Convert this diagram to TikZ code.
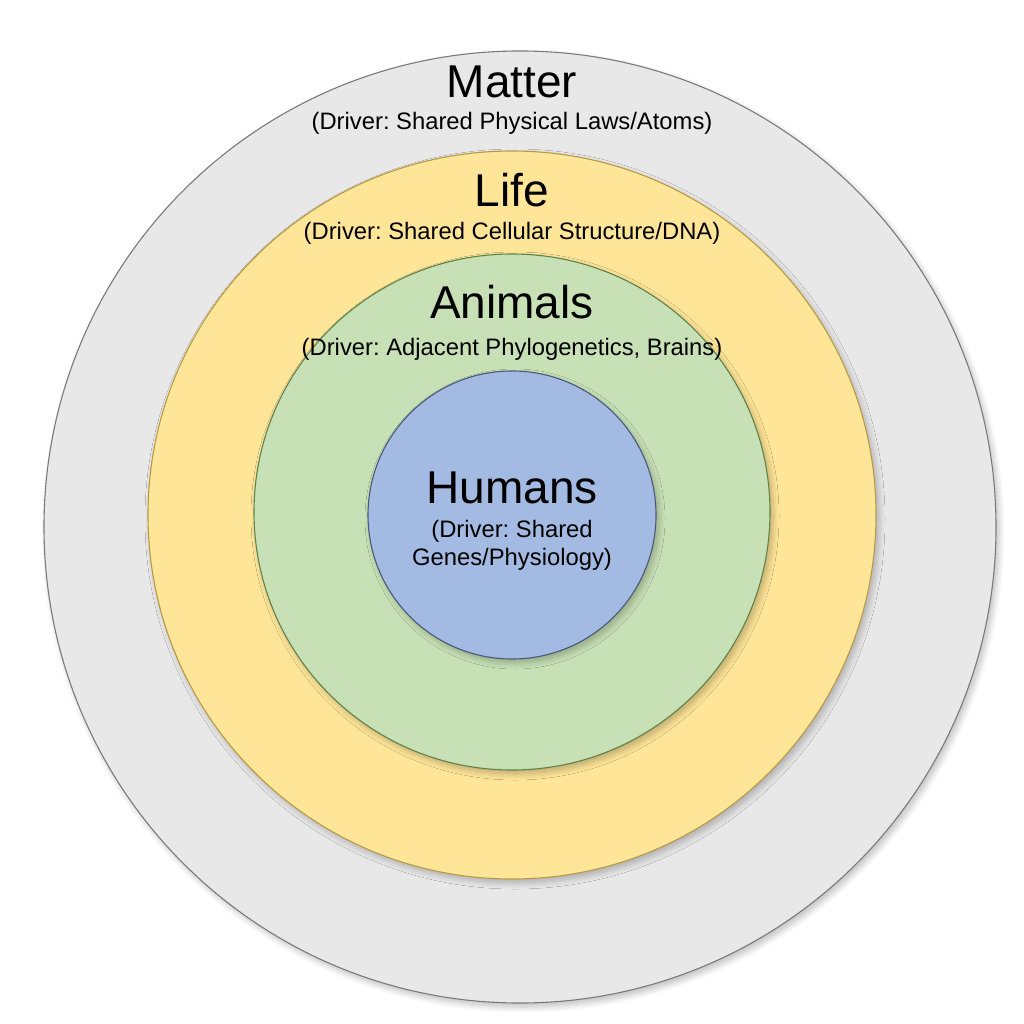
\documentclass[tikz,border=0pt]{standalone}
\usepackage{fontspec}
\setmainfont{Liberation Sans}
\usetikzlibrary{shadows.blur}
\frenchspacing
\definecolor{mattfill}{HTML}{E8E8E8}
\definecolor{mattline}{HTML}{7A7A7A}
\definecolor{lifefill}{HTML}{FFE598}
\definecolor{lifeline}{HTML}{B89A45}
\definecolor{animfill}{HTML}{C7E0B5}
\definecolor{animline}{HTML}{5F8248}
\definecolor{humfill}{HTML}{A3BBE3}
\definecolor{humline}{HTML}{4A5877}
\tikzset{
  ring/.style={circle, inner sep=0pt, line width=1.1pt,
    blur shadow={shadow xshift=3pt, shadow yshift=-4pt, shadow blur steps=8, shadow blur radius=6pt, shadow opacity=25}},
  title/.style={anchor=base, font=\fontsize{46}{50}\selectfont, text=black},
  sub/.style={anchor=base, font=\fontsize{23.8}{28}\selectfont, text=black, align=center}
}
\begin{document}
\frenchspacing
\begin{tikzpicture}[x=1pt,y=-1pt]
\useasboundingbox (0,0) rectangle (1024,1024);
\node[ring, draw=mattline, fill=mattfill, minimum size=952pt] (matter) at (520,527) {};
\node[ring, draw=lifeline, fill=lifefill, minimum size=728pt] (life) at (512,515) {};
\node[ring, draw=animline, fill=animfill, minimum size=516pt] (animals) at (512,512) {};
\node[ring, draw=humline, fill=humfill, minimum size=288pt] (humans) at (512,515) {};
\node[title] (tmatter) at (512,98) {Matter};
\node[sub] (smatter) at (512,130) {(Driver: Shared Physical Laws/Atoms)};
\node[title] (tlife) at (512,207) {Life};
\node[sub] (slife) at (512,240) {(Driver: Shared Cellular Structure/DNA)};
\node[title] (tanim) at (512,318) {Animals};
\node[sub] (sanim) at (512,355) {(Driver: Adjacent Phylogenetics, Brains)};
\node[title] (thum) at (512,503) {Humans};
\node[sub] (shum1) at (512,537) {(Driver: Shared};
\node[sub] (shum2) at (512,565) {Genes/Physiology)};
\end{tikzpicture}
\end{document}
